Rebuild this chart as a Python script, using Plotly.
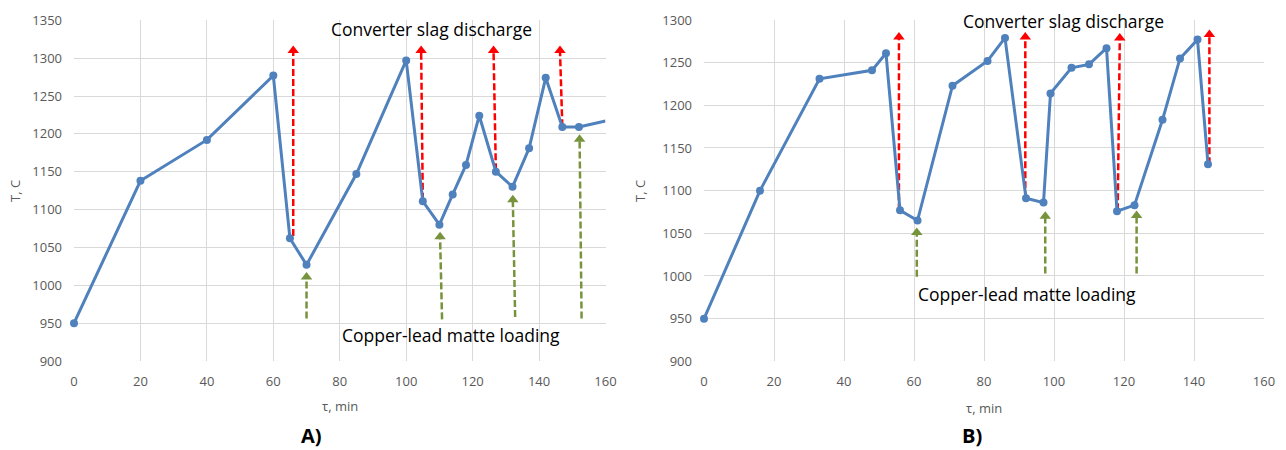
import plotly.graph_objects as go

# ---------------- data: chart A ----------------
a_time = [0, 20, 40, 60, 65, 70, 85, 100, 105, 110, 114, 118, 122, 127, 132, 137, 142, 147, 152, 160]
a_temp = [950, 1138, 1192, 1277, 1062, 1027, 1147, 1297, 1111, 1080, 1120, 1159, 1224, 1150, 1130, 1181, 1274, 1209, 1209, 1217]
# slag discharge arrows (red): x at bottom, x at top, y bottom, y head
a_red_x0 = [66, 105, 127, 147]
a_red_x1 = [66, 104.5, 126.3, 146.3]
a_red_y0 = [1065, 1113, 1152, 1210]
a_red_y1 = [1310, 1310, 1310, 1310]
# matte loading arrows (green)
a_grn_x0 = [70, 110.8, 132.8, 152.8]
a_grn_x1 = [70, 110.2, 132.1, 152.2]
a_grn_y0 = [956, 955, 958, 956]
a_grn_y1 = [1011, 1064, 1113, 1193]

# ---------------- data: chart B ----------------
b_time = [0, 16, 33, 48, 52, 56, 61, 71, 81, 86, 92, 97, 99, 105, 110, 115, 118, 123, 131, 136, 141, 144]
b_temp = [950, 1100, 1231, 1241, 1261, 1077, 1065, 1223, 1252, 1279, 1091, 1086, 1214, 1244, 1248, 1267, 1076, 1083, 1183, 1255, 1277, 1131]
b_red_x0 = [55.7, 91.8, 118.2, 144.4]
b_red_x1 = [55.7, 91.8, 118.8, 144.4]
b_red_y0 = [1077, 1091, 1077, 1131]
b_red_y1 = [1280, 1280, 1279, 1283]
b_grn_x0 = [60.8, 97.5, 123.6]
b_grn_x1 = [60.8, 97.5, 123.6]
b_grn_y0 = [999, 1003, 1003]
b_grn_y1 = [1051, 1070, 1071]

x_ticks = [0, 20, 40, 60, 80, 100, 120, 140, 160]
a_y_ticks = [900, 950, 1000, 1050, 1100, 1150, 1200, 1250, 1300, 1350]
b_y_ticks = [900, 950, 1000, 1050, 1100, 1150, 1200, 1250, 1300]

label_top = "Converter slag discharge"
label_bottom = "Copper-lead matte loading"
x_title = "τ, min"
y_title = "T, C"

BLUE = "#4f81bd"
RED = "#ff0000"
GREEN = "#77933c"
GRID = "#d9d9d9"
TXT = "#595959"
FONT = "Open Sans"

fig = go.Figure()


def add_arrows(xs0, xs1, ys0, ys1, color, xa, ya):
    for x0, x1, y0, y1 in zip(xs0, xs1, ys0, ys1):
        fig.add_trace(go.Scatter(
            x=[x0, x1], y=[y0, y1], mode="lines",
            line=dict(color=color, width=2.5, dash="7px,3px"),
            xaxis=xa, yaxis=ya, showlegend=False, hoverinfo="skip"))
        fig.add_trace(go.Scatter(
            x=[x1], y=[y1], mode="markers",
            marker=dict(symbol="triangle-up", size=10, color=color),
            xaxis=xa, yaxis=ya, showlegend=False, hoverinfo="skip"))


# chart A
add_arrows(a_red_x0, a_red_x1, a_red_y0, a_red_y1, RED, "x", "y")
add_arrows(a_grn_x0, a_grn_x1, a_grn_y0, a_grn_y1, GREEN, "x", "y")
fig.add_trace(go.Scatter(
    x=a_time, y=a_temp, mode="lines+markers", cliponaxis=False,
    line=dict(color=BLUE, width=3),
    marker=dict(color=BLUE, size=[8] * (len(a_time) - 1) + [0], opacity=1, line=dict(width=0)),
    xaxis="x", yaxis="y", showlegend=False))

# chart B
add_arrows(b_red_x0, b_red_x1, b_red_y0, b_red_y1, RED, "x2", "y2")
add_arrows(b_grn_x0, b_grn_x1, b_grn_y0, b_grn_y1, GREEN, "x2", "y2")
fig.add_trace(go.Scatter(
    x=b_time, y=b_temp, mode="lines+markers", cliponaxis=False,
    line=dict(color=BLUE, width=3),
    marker=dict(color=BLUE, size=8, opacity=1, line=dict(width=0)),
    xaxis="x2", yaxis="y2", showlegend=False))

axis_common = dict(
    showgrid=True, gridcolor=GRID, gridwidth=1,
    zeroline=False, showline=False, ticks="", automargin=False,
    tickfont=dict(family=FONT, size=13, color=TXT),
)

fig.update_layout(
    width=1286, height=450,
    margin=dict(l=0, r=0, t=0, b=0),
    paper_bgcolor="white", plot_bgcolor="white",
    xaxis=dict(domain=[74 / 1286, 605.5 / 1286], range=[0, 160], tickvals=x_ticks,
               anchor="y", ticklabelstandoff=11, **axis_common),
    yaxis=dict(domain=[89 / 450, 429.7 / 450], range=[900, 1350], tickvals=a_y_ticks,
               anchor="x", ticklabelstandoff=11, **axis_common),
    xaxis2=dict(domain=[704 / 1286, 1264 / 1286], range=[0, 160], tickvals=x_ticks,
                anchor="y2", ticklabelstandoff=11, **axis_common),
    yaxis2=dict(domain=[88.7 / 450, 430 / 450], range=[900, 1300], tickvals=b_y_ticks,
                anchor="x2", ticklabelstandoff=11, **axis_common),
    font=dict(family=FONT, color=TXT),
)

ann_font = dict(family=FONT, size=17.5, color="black")
small = dict(family=FONT, size=13, color=TXT)
bold = dict(family=FONT, size=20, color="black")
C = dict(showarrow=False, xanchor="center", yanchor="middle")
annotations = [
    dict(x=107.7, y=1338, xref="x", yref="y", text=label_top, font=ann_font, **C),
    dict(x=113.5, y=934, xref="x", yref="y", text=label_bottom, font=ann_font, **C),
    dict(x=102.8, y=1299, xref="x2", yref="y2", text=label_top, font=ann_font, **C),
    dict(x=92.3, y=979, xref="x2", yref="y2", text=label_bottom, font=ann_font, **C),
    dict(x=339.5 / 1286, y=(450 - 406) / 450, xref="paper", yref="paper", text=x_title, font=small, **C),
    dict(x=984 / 1286, y=(450 - 408) / 450, xref="paper", yref="paper", text=x_title, font=small, **C),
    dict(x=15 / 1286, y=(450 - 191) / 450, xref="paper", yref="paper", text=y_title, textangle=-90,
         font=small, **C),
    dict(x=640 / 1286, y=(450 - 191) / 450, xref="paper", yref="paper", text=y_title, textangle=-90,
         font=small, **C),
    dict(x=311 / 1286, y=(450 - 435) / 450, xref="paper", yref="paper", text="<b>A)</b>", font=bold, **C),
    dict(x=972 / 1286, y=(450 - 435) / 450, xref="paper", yref="paper", text="<b>B)</b>", font=bold, **C),
]
fig.update_layout(annotations=annotations)

fig.write_html("out.html", config={"displayModeBar": False},
               post_script="document.body.style.margin='0px';")
